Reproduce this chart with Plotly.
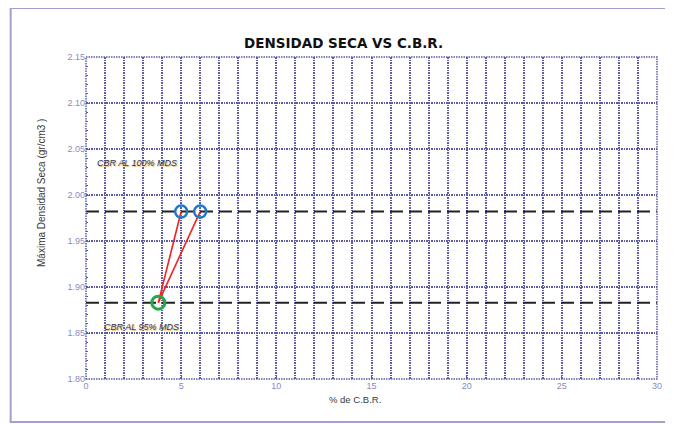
import plotly.graph_objects as go

# ---- data ----
cbr_100 = [5.0, 6.0]          # % CBR at 100% MDS (two specimens)
dens_100 = [1.982, 1.982]
cbr_95 = [3.8]                # % CBR at 95% MDS
dens_95 = [1.883]
mds_line = 1.982
mds95_line = 1.883
x_range = [0, 30]
y_range = [1.80, 2.15]
y_ticks = [1.80, 1.85, 1.90, 1.95, 2.00, 2.05, 2.10, 2.15]
x_ticks = [0, 5, 10, 15, 20, 25, 30]

title_text = "DENSIDAD SECA VS C.B.R."
x_title = "% de C.B.R."
y_title = "Máxima Densidad Seca (gr/cm3 )"
lbl_100 = "CBR AL 100% MDS"
lbl_95 = "CBR AL 95% MDS"

OFF = 8  # page body margin
W, H = 673 - OFF, 424 - OFF
# plot area in window pixels: x 86..662, y 57..379
L, R, T, B = 86 - OFF, 673 - 662, 57 - OFF, 424 - 379
PW, PH = 662 - 86, 379 - 57


def px(x):
    return (x - 86) / PW


def py(y):
    return (379 - y) / PH


fig = go.Figure()

for yv in [mds_line, mds95_line]:
    fig.add_trace(go.Scatter(x=x_range, y=[yv, yv], mode="lines",
                             line=dict(color="#222222", width=2, dash="13px,6px"),
                             hoverinfo="skip", showlegend=False))

for xv, yv in zip(cbr_100, dens_100):
    fig.add_trace(go.Scatter(x=[cbr_95[0], xv], y=[dens_95[0], yv], mode="lines",
                             line=dict(color="#ee2222", width=1.6),
                             showlegend=False))

fig.add_trace(go.Scatter(x=cbr_100, y=dens_100, mode="markers",
                         marker=dict(symbol="circle-open", size=12, color="#1f78c8",
                                     line=dict(width=2.5, color="#1f78c8")),
                         showlegend=False))
fig.add_trace(go.Scatter(x=cbr_95, y=dens_95, mode="markers",
                         marker=dict(symbol="circle-open", size=13, color="#22a845",
                                     line=dict(width=3, color="#22a845")),
                         showlegend=False))

GC = "#5c5ca6"
DASH = "1.5px,1px"
GW = 1.5
grid = dict(gridcolor=GC, griddash=DASH, gridwidth=GW)
tickfont = dict(family="Liberation Sans, Arial", size=9, color="#8a8ac0")

fig.update_xaxes(range=x_range, tickvals=x_ticks, ticks="inside", ticklen=3,
                 tickcolor=GC, showline=False, zeroline=False,
                 tickfont=tickfont, showgrid=True,
                 minor=dict(dtick=1, showgrid=True, gridcolor=GC,
                            griddash=DASH, gridwidth=GW, ticks="inside",
                            ticklen=2, tickcolor=GC),
                 **grid)
fig.update_yaxes(range=y_range, tickvals=y_ticks, tickformat=".2f", ticks="inside",
                 ticklen=3, tickcolor=GC, showline=False, zeroline=False,
                 tickfont=tickfont, showgrid=True,
                 minor=dict(dtick=0.01, showgrid=False, ticks="inside", ticklen=2,
                            tickcolor=GC),
                 **grid)

anns = [
    dict(text=title_text, x=px(346), y=py(33), xref="paper",
         yref="paper", showarrow=False,
         font=dict(family="DejaVu Sans", size=13.5, weight=900, color="#111111")),
    dict(text=x_title, x=px(357), y=py(407), xref="paper", yref="paper",
         showarrow=False,
         font=dict(family="Liberation Sans, Arial", size=9.5, color="#3a3a3a")),
    dict(text=y_title, x=px(33), y=py(193), xref="paper", yref="paper",
         showarrow=False, textangle=-90,
         font=dict(family="Liberation Sans, Arial", size=10, color="#3a3a3a")),
    dict(text="<i>" + lbl_100 + "</i>", x=0.47, y=2.035, xref="x", yref="y",
         xanchor="left", showarrow=False,
         font=dict(family="Liberation Sans, Arial", size=9, color="#33334a",
                   shadow="1px 1px 1px #e8b060")),
    dict(text="<i>" + lbl_95 + "</i>", x=0.83, y=1.857, xref="x", yref="y",
         xanchor="left", showarrow=False,
         font=dict(family="Liberation Sans, Arial", size=9, color="#33334a",
                   shadow="1px 1px 1px #e8b060")),
]

shapes = [
    # outer frame
    dict(type="rect", xref="paper", yref="paper", x0=px(10), x1=px(690),
         y0=py(422), y1=py(8), line=dict(color="#a0a0d0", width=2)),
    # dotted plot-area border
    dict(type="rect", xref="paper", yref="paper", x0=0, x1=1, y0=0, y1=1,
         line=dict(color=GC, width=GW, dash=DASH)),
]
for x0, x1 in [(170, 283), (307, 335), (368, 402), (428, 448), (490, 510), (552, 570)]:
    shapes.append(dict(type="rect", xref="paper", yref="paper", x0=px(x0), x1=px(x1),
                       y0=py(7), y1=py(-2), fillcolor="#8c8c8c", line=dict(width=0),
                       layer="below"))

fig.update_layout(width=W, height=H, margin=dict(l=L, r=R, t=T, b=B),
                  paper_bgcolor="white", plot_bgcolor="white",
                  annotations=anns, shapes=shapes, showlegend=False)

fig.write_html("out.html")
